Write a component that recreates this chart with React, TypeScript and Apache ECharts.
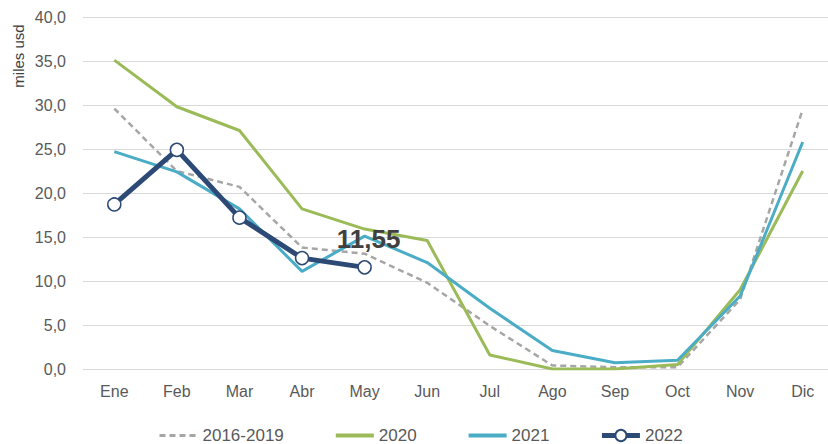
import React, { useEffect, useRef } from "react";
import * as echarts from "echarts";

const months = ["Ene", "Feb", "Mar", "Abr", "May", "Jun", "Jul", "Ago", "Sep", "Oct", "Nov", "Dic"];
const avg2016_2019 = [29.6, 22.5, 20.7, 13.8, 13.1, 9.8, 4.9, 0.4, 0.2, 0.2, 7.9, 29.5];
const y2020 = [35.1, 29.8, 27.1, 18.2, 15.9, 14.6, 1.6, 0.0, 0.0, 0.5, 9.0, 22.5];
const y2021 = [24.7, 22.4, 18.2, 11.1, 15.1, 12.1, 6.9, 2.1, 0.7, 1.0, 8.3, 25.8];
const y2022 = [18.7, 24.9, 17.2, 12.6, 11.55];
const lastLabel = "11,55";
const legendNames = ["2016-2019", "2020", "2021", "2022"];

const FONT = "Liberation Sans, Arial, sans-serif";

export default function App() {
  const ref = useRef<HTMLDivElement>(null);
  useEffect(() => {
    if (!ref.current) return;
    const chart = echarts.init(ref.current, undefined, { renderer: "svg" });
    const data2022 = y2022.map((v, i) =>
      i === y2022.length - 1
        ? {
            value: v,
            label: {
              show: true,
              position: "top",
              offset: [4, -3],
              formatter: lastLabel,
              fontSize: 26,
              fontWeight: "bold",
              color: "#404040",
              fontFamily: FONT,
            },
          }
        : v
    );
    const legendWidths = [3, 4, 4, 5];
    chart.setOption({
      animation: false,
      textStyle: { fontFamily: FONT },
      grid: { left: 83, top: 17, right: 0, bottom: 75, containLabel: false },
      legend: {
        left: 158,
        top: 427,
        padding: 0,
        itemWidth: 38,
        itemHeight: 14,
        itemGap: 50,
        textStyle: { fontSize: 17, color: "#595959", fontFamily: FONT },
        data: legendNames.map((n, i) =>
          i < 3
            ? { name: n, itemStyle: { opacity: 0 }, lineStyle: { width: legendWidths[i] } }
            : { name: n, lineStyle: { width: legendWidths[i] } }
        ),
      },
      graphic: [
        {
          type: "text",
          x: 18,
          y: 56,
          rotation: Math.PI / 2,
          style: {
            text: "miles usd",
            fontSize: 15,
            fill: "#404040",
            fontFamily: FONT,
            align: "center",
            verticalAlign: "middle",
          },
        },
      ],
      xAxis: {
        type: "category",
        data: months,
        boundaryGap: true,
        axisLine: { show: false },
        axisTick: { show: false },
        axisLabel: { fontSize: 16, color: "#595959", margin: 14, fontFamily: FONT },
      },
      yAxis: {
        type: "value",
        min: 0,
        max: 40,
        interval: 5,
        axisLine: { show: false },
        axisTick: { show: false },
        splitLine: { lineStyle: { color: "#D9D9D9", width: 1 } },
        axisLabel: {
          fontSize: 16,
          color: "#595959",
          margin: 17,
          fontFamily: FONT,
          formatter: (v: number) => v.toFixed(1).replace(".", ","),
        },
      },
      series: [
        {
          name: "2016-2019",
          type: "line",
          data: avg2016_2019,
          symbol: "none",
          lineStyle: { color: "#A6A6A6", width: 2.5, type: [6, 4] },
          itemStyle: { color: "#A6A6A6" },
        },
        {
          name: "2020",
          type: "line",
          data: y2020,
          symbol: "none",
          lineStyle: { color: "#9BBB59", width: 3 },
          itemStyle: { color: "#9BBB59" },
        },
        {
          name: "2021",
          type: "line",
          data: y2021,
          symbol: "none",
          lineStyle: { color: "#4BACC6", width: 3 },
          itemStyle: { color: "#4BACC6" },
        },
        {
          name: "2022",
          type: "line",
          data: data2022,
          symbol: "circle",
          symbolSize: 13,
          lineStyle: { color: "#2C4A75", width: 5 },
          itemStyle: { color: "#FFFFFF", borderColor: "#2C4A75", borderWidth: 1.5 },
          z: 5,
        },
      ],
    });
    return () => chart.dispose();
  }, []);
  return (
    <div
      style={{ position: "fixed", left: 0, top: 0, width: 828, height: 444, overflow: "hidden", background: "#fff" }}
    >
      <div ref={ref} style={{ position: "absolute", left: 0, top: 0, width: 834, height: 444 }} />
    </div>
  );
}
